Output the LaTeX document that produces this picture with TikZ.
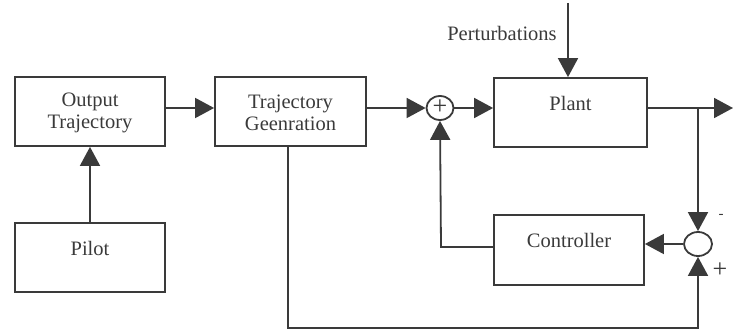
\documentclass[tikz,border=0pt]{standalone}
\usepackage{fontspec}
\setmainfont{Liberation Serif}
\usetikzlibrary{arrows.meta,shapes.geometric}
\definecolor{ink}{HTML}{3A3A3A}
\begin{document}
\begin{tikzpicture}[x=1pt,y=-1pt,
  line width=1.8pt, draw=ink, text=ink,
  every node/.style={font=\fontsize{20.5}{22}\selectfont},
  blk/.style={draw=ink, line width=1.8pt, inner sep=0pt, minimum height=69pt},
  sumc/.style={draw=ink, line width=1.8pt, ellipse, inner sep=0pt, minimum height=24pt},
  sgn/.style={font=\fontsize{26}{26}\selectfont, inner sep=0pt},
  conn/.style={draw=ink, line width=1.8pt, -{Triangle[length=19pt,width=20pt]}}
]
\useasboundingbox (0,0) rectangle (735,331);
% blocks
\node[blk, minimum width=150pt] (ot) at (90,111.5) {};
\node[align=center] (otl) at (90,113) {Output\\Trajectory};
\node[blk, minimum width=150pt] (pilot) at (90,257.5) {};
\node (pilotl) at (90,248) {Pilot};
\node[blk, minimum width=151pt] (tg) at (290.5,111.5) {};
\node[align=center] (tgl) at (290.5,113) {Trajectory\\Geenration};
\node[blk, minimum width=153pt] (plant) at (570.5,112.5) {};
\node (plantl) at (570.5,103) {Plant};
\node[blk, minimum width=150pt, minimum height=70pt] (ctrl) at (569,250) {};
\node (ctrll) at (569,240) {Controller};
% summing junctions
\node[sumc, minimum width=27pt] (s1) at (440,108) {};
\node[sgn] (s1p) at (440,107) {+};
\node[sumc, minimum width=28pt] (s2) at (698,244) {};
\node[sgn, font=\fontsize{15}{15}\selectfont] (minus) at (721,216) {-};
\node[sgn] (plus) at (720,270) {+};
% perturbations
\node (pert) at (502,33) {Perturbations};
\coordinate (ptop) at (568,3);
\coordinate (yout) at (733,108);
\coordinate (br) at (698,108);
\coordinate (bl) at (288,328);
\coordinate (brr) at (698,328);
\coordinate (cl) at (441,247);
% connectors
\draw[conn] (pilot.north) -- (ot.south);
\draw[conn] ([yshift=3.5pt]ot.east) -- ([yshift=3.5pt]tg.west);
\draw[conn] ([yshift=3.5pt]tg.east) -- (s1.west);
\draw[conn] (s1.east) -- (s1.east -| plant.west);
\draw[conn] (ptop) -- (ptop |- plant.north);
\draw[conn] (plant.east |- yout) -- (yout);
\draw[conn] (br) -- (s2.north);
\draw[conn] (s2.west) -- (s2.west -| ctrl.east);
\draw[conn] (ctrl.west |- cl) -- (cl) -- (s1.south);
\draw[conn] (tg.south -| bl) -- (bl) -- (brr) -- (s2.south);
\end{tikzpicture}
\end{document}
